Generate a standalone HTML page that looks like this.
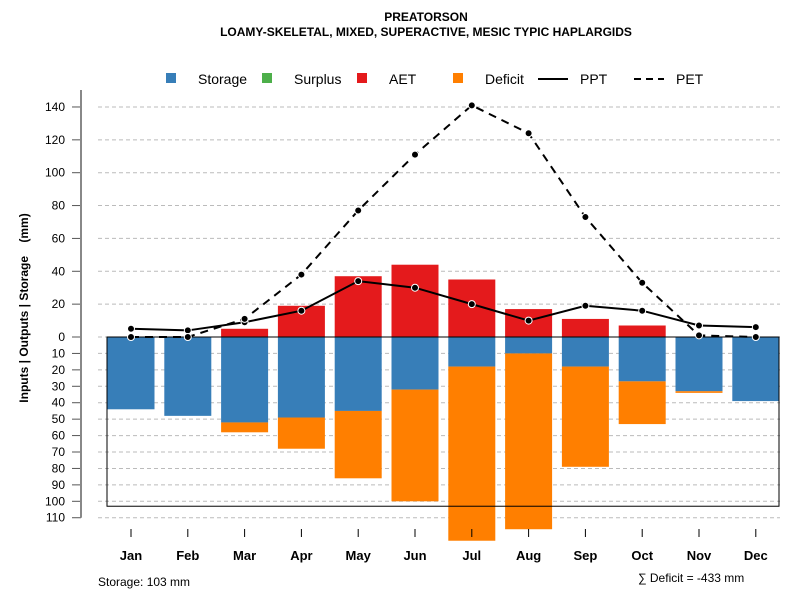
<!DOCTYPE html>
<html><head><meta charset="utf-8"><style>
body{margin:0;background:#fff}
svg{font-family:"Liberation Sans",Arial,sans-serif}
</style></head><body>
<svg id="chart" width="800" height="600" viewBox="0 0 800 600">
<text x="426" y="21" text-anchor="middle" font-size="12" font-weight="bold">PREATORSON</text>
<text x="426" y="36" text-anchor="middle" font-size="12" font-weight="bold">LOAMY-SKELETAL, MIXED, SUPERACTIVE, MESIC TYPIC HAPLARGIDS</text>
<g>
<g><rect x="166" y="73" width="10" height="10" fill="#377eb8"/><text x="198" y="84" font-size="14">Storage</text></g>
<g><rect x="262" y="73" width="10" height="10" fill="#4daf4a"/><text x="294" y="84" font-size="14">Surplus</text></g>
<g><rect x="357" y="73" width="10" height="10" fill="#e41a1c"/><text x="389" y="84" font-size="14">AET</text></g>
<g><rect x="453" y="73" width="10" height="10" fill="#ff7f00"/><text x="485" y="84" font-size="14">Deficit</text></g>
<g><line x1="538" y1="79" x2="568" y2="79" stroke="#000" stroke-width="2"/><text x="580" y="84" font-size="14">PPT</text></g>
<g><line x1="634" y1="79" x2="664" y2="79" stroke="#000" stroke-width="2" stroke-dasharray="7,5"/><text x="676" y="84" font-size="14">PET</text></g>
</g>
<text transform="translate(28,308) rotate(-90)" text-anchor="middle" font-size="12" font-weight="bold" style="white-space:pre">Inputs | Outputs | Storage    (mm)</text>
<g id="grid"></g><g id="bars"></g><g id="axes"></g><g id="lines"></g>
<text x="98" y="586" font-size="12">Storage: 103 mm</text>
<text x="638" y="582" font-size="12">∑ Deficit = -433 mm</text>
</svg>
<script>
const months=["Jan","Feb","Mar","Apr","May","Jun","Jul","Aug","Sep","Oct","Nov","Dec"];
const storage=[44,48,52,49,45,32,18,10,18,27,33,39];
const deficit=[0,0,6,19,41,68,106,107,61,26,1,0];
const aet=[0,0,5,19,37,44,35,17,11,7,0,0];
const surplus=[0,0,0,0,0,0,0,0,0,0,0,0];
const ppt=[5,4,9,16,34,30,20,10,19,16,7,6];
const pet=[0,0,11,38,77,111,141,124,73,33,1,0];
const posTicks=[0,20,40,60,80,100,120,140];
const negTicks=[10,20,30,40,50,60,70,80,90,100,110];
const storageCap=103;
const NS="http://www.w3.org/2000/svg";
const y0=337,k=1.643;
const yv=v=>y0-v*k;
const xc=i=>131+i*56.8;
const bw=47;
function mk(t,a,p){const e=document.createElementNS(NS,t);for(const n in a)e.setAttribute(n,a[n]);p.appendChild(e);return e;}
const G=document.getElementById('grid'),B=document.getElementById('bars'),A=document.getElementById('axes'),L=document.getElementById('lines');
const allT=posTicks.map(v=>[v,v]).concat(negTicks.map(v=>[-v,v]));
allT.forEach(([v,lab])=>{
 const gl=mk('line',{x1:98,x2:780,y1:yv(v),y2:yv(v),stroke:'#bbb','stroke-dasharray':'4,3'},G);
 
 
 const tk=mk('line',{x1:72,x2:81,y1:yv(v),y2:yv(v),stroke:'#555'},A);
 
 
 const tl=mk('text',{x:65,y:yv(v)+4,'text-anchor':'end','font-size':12},A);tl.textContent=lab;
 
 
});
const ax=mk('line',{x1:81,x2:81,y1:90,y2:yv(-110),stroke:'#888','stroke-width':2},A);


const box=mk('rect',{x:107,y:y0,width:672,height:storageCap*k,fill:'none',stroke:'#000'},A);


months.forEach((m,i)=>{
 const x=xc(i)-bw/2;
 const s=mk('rect',{x:x,y:y0,width:bw,height:storage[i]*k,fill:'#377eb8'},B);
 
 
 const d=mk('rect',{x:x,y:yv(-storage[i]),width:bw,height:deficit[i]*k,fill:'#ff7f00'},B);
 
 
 const a=mk('rect',{x:x,y:yv(aet[i]),width:bw,height:aet[i]*k,fill:'#e41a1c'},B);
 
 
 const su=mk('rect',{x:x,y:yv(aet[i]+surplus[i]),width:bw,height:surplus[i]*k,fill:'#4daf4a'},B);
 
 
 const t=mk('line',{x1:xc(i),x2:xc(i),y1:529,y2:537,stroke:'#000'},A);
 
 
 const tl=mk('text',{x:xc(i),y:560,'text-anchor':'middle','font-size':13,'font-weight':'bold'},A);tl.textContent=m;
 
 
});
const zl=mk('line',{x1:107,x2:779,y1:y0,y2:y0,stroke:'#000'},L);


function series(arr,name,dash){
 const p=mk('polyline',{points:arr.map((v,i)=>xc(i)+','+yv(v)).join(' '),fill:'none',stroke:'#000','stroke-width':2,'stroke-dasharray':dash},L);
 
 
 arr.forEach((v,i)=>{
  const c=mk('circle',{cx:xc(i),cy:yv(v),r:3.5,fill:'#000',stroke:'#fff','stroke-width':1},L);
  
  
 });
}
series(ppt,'ppt','none');
series(pet,'pet','8,6');
</script>
</body></html>
